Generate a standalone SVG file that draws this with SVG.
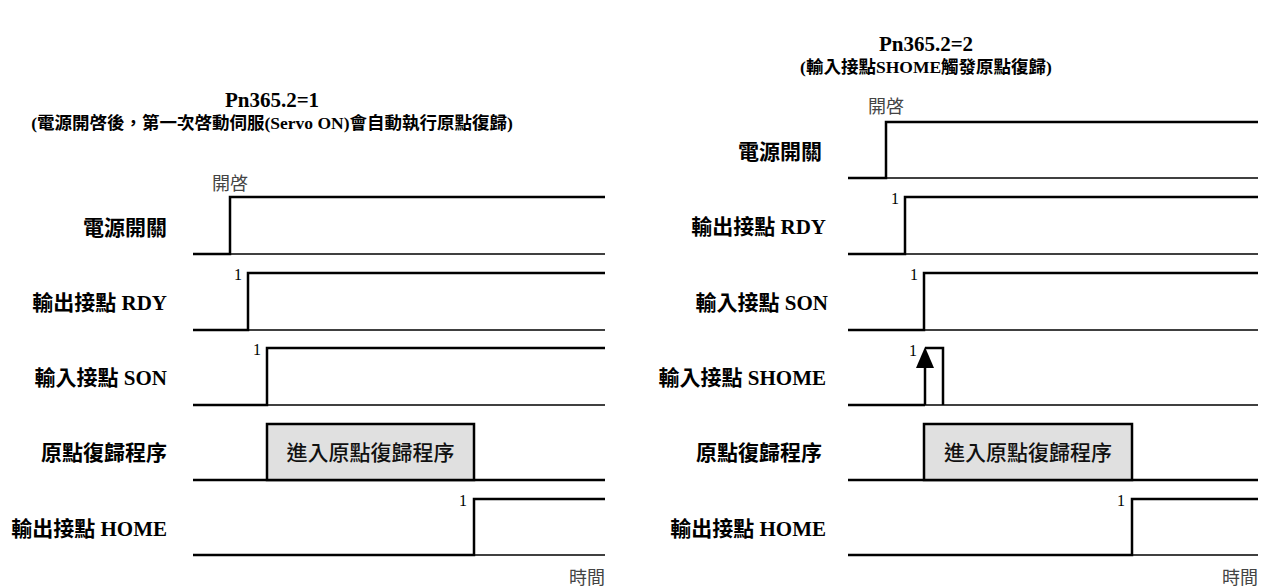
<svg xmlns="http://www.w3.org/2000/svg" width="1274" height="588" viewBox="0 0 1274 588">
<style>
.bg{fill:#ffffff}
.sig{fill:none;stroke:#000;stroke-width:2.5;stroke-linejoin:miter;stroke-linecap:butt}
.base{fill:none;stroke:#000;stroke-width:1.5}
.box{fill:#e0e0e0;stroke:#000;stroke-width:2.5}
.title{font-family:"Liberation Serif","Noto Sans CJK TC",serif;font-weight:bold;font-size:21px;fill:#000;text-anchor:middle}
.sub{font-family:"Liberation Serif","Noto Sans CJK TC",serif;font-weight:bold;font-size:17.5px;fill:#000;text-anchor:middle}
.lbl{font-family:"Liberation Serif","Noto Sans CJK TC",serif;font-weight:bold;font-size:21px;fill:#000;text-anchor:end}
.one{font-family:"Liberation Serif",serif;font-size:16px;fill:#000;text-anchor:end}
.note{font-family:"Noto Sans CJK TC",sans-serif;font-weight:400;font-size:18px;fill:#444}
.boxt{font-family:"Noto Sans CJK TC",sans-serif;font-weight:500;font-size:21px;fill:#111;text-anchor:middle}
</style>
<rect class="bg" x="0" y="0" width="1274" height="588"/>

<g id="left-panel">
  <g id="left-title">
    <text class="title" x="272" y="107">Pn365.2=1</text>
    <text class="sub" x="272" y="129">(電源開啓後，第一次啓動伺服(Servo ON)會自動執行原點復歸)</text>
  </g>
  <g id="left-power">
    <text class="lbl" x="167" y="235">電源開關</text>
    <text class="note" x="230" y="190" text-anchor="middle">開啓</text>
    <path class="base" d="M230,254 H605"/>
    <path class="sig" d="M193,254 H230 V197 H605"/>
  </g>
  <g id="left-rdy">
    <text class="lbl" x="167" y="310">輸出接點 RDY</text>
    <text class="one" x="242" y="280">1</text>
    <path class="base" d="M248,330 H605"/>
    <path class="sig" d="M193,330 H248 V273 H605"/>
  </g>
  <g id="left-son">
    <text class="lbl" x="167" y="385">輸入接點 SON</text>
    <text class="one" x="261" y="355">1</text>
    <path class="base" d="M267,405 H605"/>
    <path class="sig" d="M193,405 H267 V348 H605"/>
  </g>
  <g id="left-homing">
    <text class="lbl" x="167" y="460">原點復歸程序</text>
    <path class="sig" d="M193,480 H605"/>
    <rect class="box" x="267" y="424" width="207" height="56"/>
    <text class="boxt" x="370.5" y="460">進入原點復歸程序</text>
  </g>
  <g id="left-home">
    <text class="lbl" x="167" y="536">輸出接點 HOME</text>
    <text class="one" x="467" y="506">1</text>
    <path class="base" d="M474,555 H605"/>
    <path class="sig" d="M193,555 H474 V499 H605"/>
    <text class="note" x="605" y="584" text-anchor="end">時間</text>
  </g>
</g>

<g id="right-panel">
  <g id="right-title">
    <text class="title" x="926" y="51">Pn365.2=2</text>
    <text class="sub" x="926" y="73">(輸入接點SHOME觸發原點復歸)</text>
  </g>
  <g id="right-power">
    <text class="lbl" x="822" y="159">電源開關</text>
    <text class="note" x="886" y="113" text-anchor="middle">開啓</text>
    <path class="base" d="M886,178 H1258"/>
    <path class="sig" d="M848,178 H886 V122 H1258"/>
  </g>
  <g id="right-rdy">
    <text class="lbl" x="826" y="234">輸出接點 RDY</text>
    <text class="one" x="899" y="204">1</text>
    <path class="base" d="M905,254 H1258"/>
    <path class="sig" d="M848,254 H905 V197 H1258"/>
  </g>
  <g id="right-son">
    <text class="lbl" x="828" y="310">輸入接點 SON</text>
    <text class="one" x="918" y="280">1</text>
    <path class="base" d="M924,330 H1258"/>
    <path class="sig" d="M848,330 H924 V273 H1258"/>
  </g>
  <g id="right-shome">
    <text class="lbl" x="826" y="385">輸入接點 SHOME</text>
    <text class="one" x="917" y="356">1</text>
    <path class="base" d="M925,405 H1258"/>
    <path class="sig" d="M848,405 H925"/>
    <path class="sig" d="M925,405 V362"/>
    <polygon points="925,347 916,368 934,368" fill="#000"/>
    <path class="sig" d="M925,348 H943 V405"/>
  </g>
  <g id="right-homing">
    <text class="lbl" x="822" y="460">原點復歸程序</text>
    <path class="sig" d="M848,480 H1258"/>
    <rect class="box" x="924" y="424" width="208" height="56"/>
    <text class="boxt" x="1028" y="460">進入原點復歸程序</text>
  </g>
  <g id="right-home">
    <text class="lbl" x="826" y="536">輸出接點 HOME</text>
    <text class="one" x="1125" y="506">1</text>
    <path class="base" d="M1132,555 H1258"/>
    <path class="sig" d="M848,555 H1132 V499 H1258"/>
    <text class="note" x="1258" y="584" text-anchor="end">時間</text>
  </g>
</g>
<g id="connectors"></g>
</svg>
